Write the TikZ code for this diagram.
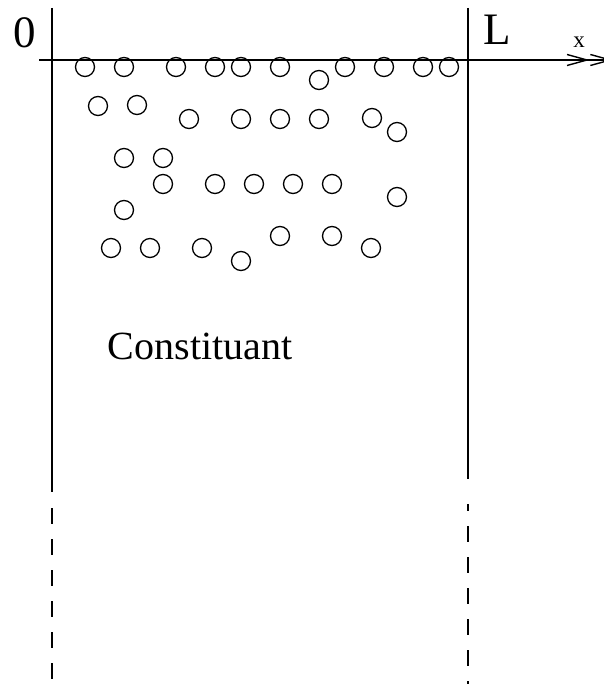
\documentclass[tikz,border=0pt]{standalone}
\usepackage{fontspec}
\setmainfont{Liberation Serif}
\usetikzlibrary{arrows.meta}
\begin{document}
\begin{tikzpicture}[x=1pt,y=-1pt,
  wall/.style={line width=2.4pt},
  wallgap/.style={line width=2.4pt,dash pattern=on 15.5pt off 15.5pt},
  particle/.style={circle,draw,line width=1.3pt,minimum size=19pt,inner sep=0pt},
  bigtext/.style={inner sep=0pt,anchor=base,font=\fontsize{45}{54}\selectfont},
  axistext/.style={inner sep=0pt,anchor=base,font=\fontsize{23}{27}\selectfont},
  bodytext/.style={inner sep=0pt,anchor=base,font=\fontsize{40}{48}\selectfont}]
\useasboundingbox (0,0) rectangle (603,684);

% walls of the constituent layer
\coordinate (l0) at (52,8);
\coordinate (l1) at (52,492);
\coordinate (l2) at (52,508);
\coordinate (l3) at (52,684);
\coordinate (r0) at (468,8);
\coordinate (r1) at (468,479);
\coordinate (r2) at (468,504);
\coordinate (r3) at (468,511);
\coordinate (r4) at (468,526);
\coordinate (r5) at (468,684);
\draw[wall] (l0) -- (l1);
\draw[wallgap] (l2) -- (l3);
\draw[wall] (r0) -- (r1);
\draw[wall] (r2) -- (r3);
\draw[wallgap] (r4) -- (r5);

% x axis with a double open head
\coordinate (ax0) at (39,60);
\coordinate (ax1) at (603,60);
\draw[line width=2.1pt,-{Straight Barb[length=20pt,width=11pt,line width=1.4pt]Straight Barb[length=20pt,width=11pt,line width=1.4pt,sep=-10pt]}] (ax0) -- (ax1);

% labels
\node[bigtext] (zero) at (25,48) {0};
\node[bigtext] (len) at (497,45) {L};
\node[axistext] (xlab) at (579,48) {x};
\node[bodytext] (const) at (200,359) {Constituant};

% particles
\foreach \px/\py in {
  85/67, 124/67, 176/67, 215/67, 241/67, 280/67, 319/80, 345/67, 384/67, 423/67, 449/67,
  98/106, 137/105, 189/119, 241/119, 280/119, 319/119, 372/118, 397/132,
  124/158, 163/158,
  163/184, 215/184, 254/184, 293/184, 332/184, 397/197,
  124/210,
  111/248, 150/248, 202/248, 241/261, 280/236, 332/236, 371/248}
  \node[particle] at (\px,\py) {};
\end{tikzpicture}
\end{document}
